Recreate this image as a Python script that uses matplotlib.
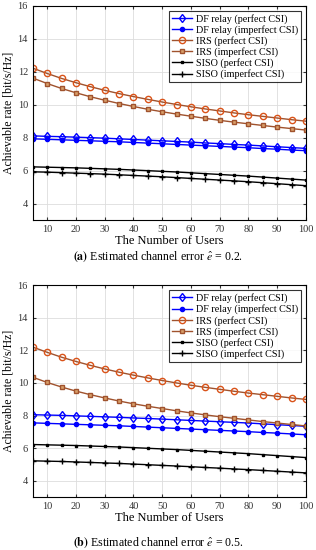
import matplotlib
matplotlib.use("Agg")
import matplotlib.pyplot as plt

plt.rcParams['font.family'] = ['Liberation Serif', 'DejaVu Serif']
plt.rcParams['mathtext.fontset'] = 'stix'

users = [5, 10, 15, 20, 25, 30, 35, 40, 45, 50, 55, 60, 65, 70, 75, 80, 85, 90, 95, 100]

# (a) error 0.2
df_perf_a = [8.10, 8.07, 8.05, 8.02, 7.99, 7.96, 7.92, 7.88, 7.84, 7.80, 7.76, 7.72, 7.67, 7.63, 7.58, 7.54, 7.49, 7.44, 7.39, 7.34]
df_imp_a = [7.92, 7.89, 7.86, 7.83, 7.80, 7.77, 7.74, 7.70, 7.66, 7.62, 7.58, 7.54, 7.50, 7.46, 7.42, 7.38, 7.33, 7.29, 7.24, 7.20]
irs_perf_a = [12.2, 11.88, 11.58, 11.32, 11.08, 10.86, 10.66, 10.48, 10.31, 10.15, 10.0, 9.86, 9.73, 9.61, 9.49, 9.38, 9.28, 9.18, 9.08, 8.99]
irs_imp_a = [11.6, 11.27, 10.97, 10.71, 10.47, 10.26, 10.06, 9.88, 9.71, 9.56, 9.42, 9.29, 9.16, 9.04, 8.93, 8.83, 8.73, 8.63, 8.54, 8.45]
siso_perf_a = [6.22, 6.20, 6.18, 6.16, 6.13, 6.10, 6.07, 6.03, 5.99, 5.95, 5.91, 5.86, 5.81, 5.76, 5.71, 5.66, 5.60, 5.54, 5.48, 5.42]
siso_imp_a = [5.92, 5.90, 5.87, 5.84, 5.81, 5.78, 5.74, 5.70, 5.66, 5.62, 5.57, 5.52, 5.47, 5.42, 5.37, 5.32, 5.26, 5.20, 5.14, 5.08]

# (b) error 0.5
df_perf_b = [8.05, 8.03, 8.01, 7.98, 7.95, 7.92, 7.89, 7.85, 7.82, 7.78, 7.74, 7.70, 7.66, 7.62, 7.58, 7.54, 7.49, 7.44, 7.39, 7.34]
df_imp_b = [7.55, 7.52, 7.49, 7.46, 7.43, 7.40, 7.37, 7.33, 7.29, 7.25, 7.21, 7.17, 7.13, 7.09, 7.05, 7.01, 6.96, 6.92, 6.87, 6.82]
irs_perf_b = irs_perf_a
irs_imp_b = [10.35, 10.03, 9.75, 9.50, 9.28, 9.08, 8.89, 8.72, 8.57, 8.43, 8.29, 8.16, 8.04, 7.93, 7.83, 7.73, 7.63, 7.54, 7.45, 7.36]
siso_perf_b = siso_perf_a
siso_imp_b = [5.22, 5.20, 5.18, 5.15, 5.12, 5.09, 5.06, 5.02, 4.98, 4.94, 4.90, 4.86, 4.81, 4.77, 4.72, 4.68, 4.63, 4.58, 4.53, 4.48]

labels = ['DF relay (perfect CSI)', 'DF relay (imperfect CSI)', 'IRS (perfect CSI)',
          'IRS (imperfect CSI)', 'SISO (perfect CSI)', 'SISO (imperfect CSI)']
xticks = [10, 20, 30, 40, 50, 60, 70, 80, 90, 100]
yticks = [4, 6, 8, 10, 12, 14, 16]
captions = [r'$\bf{(a)}$ Estimated channel error $\hat{e}$ = 0.2.',
            r'$\bf{(b)}$ Estimated channel error $\hat{e}$ = 0.5.']

irs_line = '#A0522D'


def draw(ax, series):
    df_p, df_i, irs_p, irs_i, siso_p, siso_i = series
    ax.plot(users, df_p, color='blue', lw=1, marker='d', ms=4.5, mfc='none', mew=1, label=labels[0])
    ax.plot(users, df_i, color='blue', lw=1, marker='o', ms=3, mfc='blue', label=labels[1])
    ax.plot(users, irs_p, color=irs_line, lw=1, marker='o', ms=4.5, mec='#D95319', mfc='none', label=labels[2])
    ax.plot(users, irs_i, color=irs_line, lw=1, marker='s', ms=3.2, mec=irs_line, mfc='#D9A06A', label=labels[3])
    ax.plot(users, siso_p, color='black', lw=1, marker='s', ms=2, label=labels[4])
    ax.plot(users, siso_i, color='black', lw=1, marker='+', ms=4, label=labels[5])
    ax.set_xlim(5, 100)
    ax.set_ylim(3, 16)
    ax.set_xticks(xticks)
    ax.set_yticks(yticks)
    ax.tick_params(direction='in', top=True, right=True, labelsize=7.5, length=2, colors='#333333')
    ax.grid(True, color='#DDDDDD', lw=0.6)
    ax.set_axisbelow(True)
    ax.set_xlabel('The Number of Users', fontsize=9, labelpad=1)
    ax.set_ylabel('Achievable rate [bit/s/Hz]', fontsize=8.5, labelpad=2)
    leg = ax.legend(loc='upper right', fontsize=7.3, frameon=True, fancybox=False,
                    edgecolor='black', handlelength=2, borderpad=0.3, labelspacing=0.12,
                    handletextpad=0.3, borderaxespad=0.5)
    leg.get_frame().set_linewidth(0.8)
    for s in ax.spines.values():
        s.set_linewidth(0.8)


fig = plt.figure(figsize=(3.16, 5.5), dpi=100)
ax1 = fig.add_axes([0.104, 0.600, 0.864, 0.390])
ax2 = fig.add_axes([0.104, 0.0964, 0.864, 0.385])
draw(ax1, [df_perf_a, df_imp_a, irs_perf_a, irs_imp_a, siso_perf_a, siso_imp_a])
draw(ax2, [df_perf_b, df_imp_b, irs_perf_b, irs_imp_b, siso_perf_b, siso_imp_b])

fig.text(0.5, 1 - 257 / 550, captions[0], ha='center', va='center', fontsize=8.6)
fig.text(0.5, 1 - 543 / 550, captions[1], ha='center', va='center', fontsize=8.6)

fig.savefig('out.png', dpi=100)
